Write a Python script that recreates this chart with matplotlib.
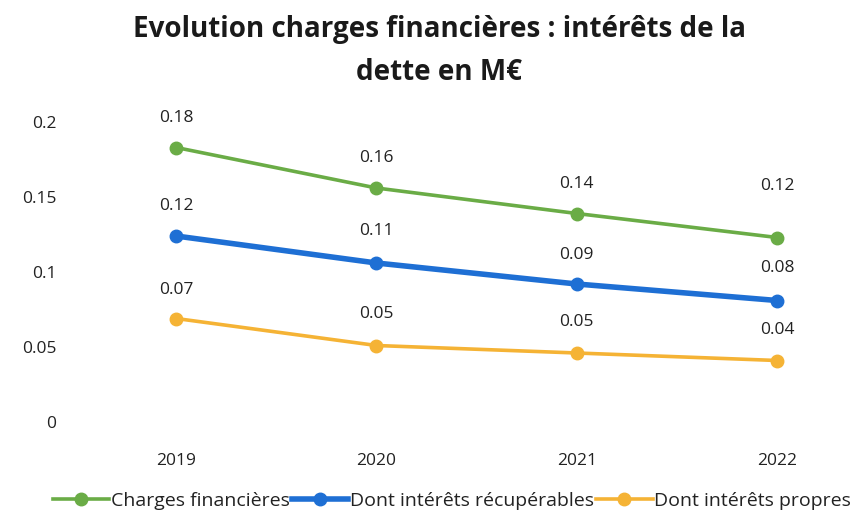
import matplotlib.pyplot as plt
from matplotlib.ticker import FixedLocator, FuncFormatter

# data
years = ["2019", "2020", "2021", "2022"]
charges = [0.183, 0.156, 0.139, 0.123]
recuperables = [0.124, 0.106, 0.092, 0.081]
propres = [0.069, 0.051, 0.046, 0.041]

series = [
    ("Charges financières", charges, "#6aac46", 2.6, [30, 30, 30, 52]),
    ("Dont intérêts récupérables", recuperables, "#1e6fd4", 4.0, [30, 32, 29, 33]),
    ("Dont intérêts propres", propres, "#f5b335", 2.6, [29, 32, 31, 31]),
]

plt.rcParams['font.family'] = ['Open Sans', 'DejaVu Sans']

fig = plt.figure(figsize=(8.61, 5.15), dpi=100)
ax = fig.add_axes([76 / 861, 93 / 515, 785 / 861, 300 / 515])

x = range(len(years))
for name, vals, color, lw, offs in series:
    ax.plot(x, vals, color=color, lw=lw, marker='o', markersize=9,
            markerfacecolor=color, markeredgecolor=color, label=name)
    for xi, v, off in zip(x, vals, offs):
        ax.annotate(f"{round(v, 2):.2f}", (xi, v), xytext=(0, off * 0.72),
                    textcoords='offset points', ha='center', va='center',
                    fontsize=12.5, color='#222222', annotation_clip=False)

ax.set_xlim(-0.5, -0.5 + 785 / 200.3)
ax.set_ylim(0, 0.2)
ax.set_xticks(list(x))
ax.set_xticklabels(years)
ax.yaxis.set_major_locator(FixedLocator([0, 0.05, 0.1, 0.15, 0.2]))
ax.yaxis.set_major_formatter(FuncFormatter(lambda v, p: f"{v:g}"))
ax.tick_params(axis='both', length=0, labelsize=12.5, colors='#222222')
ax.tick_params(axis='x', pad=22)
ax.tick_params(axis='y', pad=14)
for s in ax.spines.values():
    s.set_visible(False)

fig.suptitle("Evolution charges financières : intérêts de la\ndette en M€",
             x=0.51, y=0.97, fontsize=20, fontweight='bold', color='#1a1a1a',
             linespacing=1.6)

fig.legend(loc='center', bbox_to_anchor=(0.525, 0.028), ncol=3, frameon=False,
           fontsize=14, handlelength=2.9, handletextpad=0.1, columnspacing=0.1,
           labelcolor='#222222')

fig.savefig("out.png", dpi=100)
